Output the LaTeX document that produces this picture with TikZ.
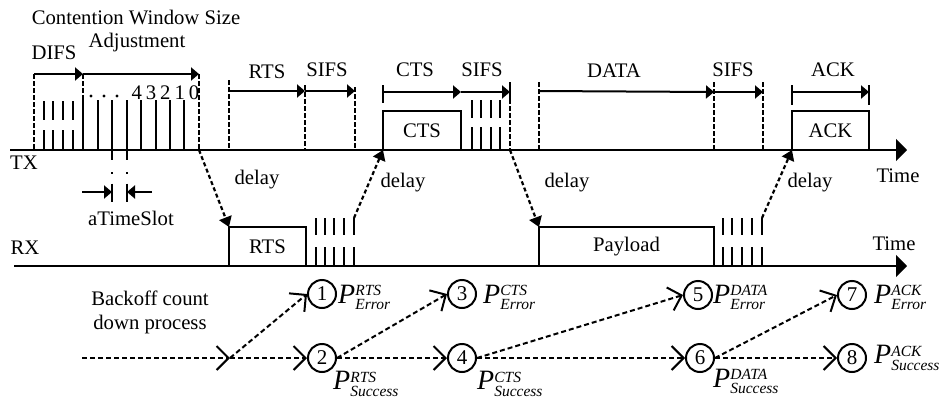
\documentclass[tikz,border=0pt]{standalone}
\usepackage{amsmath}
\usepackage{fontspec}
\setmainfont{Liberation Serif}
\usepackage{tikz}
\usetikzlibrary{arrows.meta, positioning, calc}

\newcommand{\probfont}{\fontsize{15.5}{15.5}\selectfont\itshape}
\newcommand{\prob}[2]{{\fontsize{28}{28}\selectfont\itshape P}$^{\hbox{\probfont #1}}_{\hbox{\probfont #2}}$}

\tikzset{
  lbl/.style={font=\fontsize{20.7}{24}\selectfont, inner sep=0pt},
  axis/.style={line width=2pt, -{Triangle[length=11pt, width=22pt]}},
  tick/.style={line width=2pt},
  guide/.style={line width=1.8pt, dash pattern=on 4.5pt off 2.5pt},
  span/.style={line width=2pt, -{Triangle[length=8pt, width=13pt]}},
  frame/.style={draw, line width=2pt, inner sep=0pt, outer sep=0pt, anchor=south west, font=\fontsize{20.7}{24}\selectfont},
  delay/.style={line width=2.2pt, dash pattern=on 4pt off 2.7pt, -{Triangle[length=10pt, width=13pt]}},
  state/.style={circle, draw, line width=2pt, minimum size=28pt, inner sep=0pt, font=\fontsize{21}{21}\selectfont},
  flow/.style={line width=2pt, dash pattern=on 5pt off 3pt, -{Straight Barb[length=12pt, width=24pt]}},
  prb/.style={anchor=west, inner sep=0pt, font=\fontsize{20.7}{24}\selectfont}
}

\begin{document}
\begin{tikzpicture}[x=1pt, y=-1pt]
  \useasboundingbox (0,0) rectangle (940,399);

  % time axes
  \draw[axis] (10,150) -- (907,150);
  \draw[axis] (14,266) -- (907,266);
  \node[lbl] (tx) at (24,163) {TX};
  \node[lbl] (rx) at (25,248) {RX};
  \node[lbl] (txtime) at (898,176) {Time};
  \node[lbl] (rxtime) at (894,244) {Time};

  % DIFS
  \draw[guide] (34,74) -- (34,150);
  \draw[guide] (83,74) -- (83,100);
  \draw[tick] (83,100) -- (83,150);
  \draw[span] (34,74) -- (83,74);
  \foreach \x in {44,53,63,73}
    \draw[tick] (\x,101) -- (\x,120) (\x,130) -- (\x,150);
  \node[lbl] (difs) at (54,53) {DIFS};

  % Contention window: backoff slots
  \draw[span] (83,74) -- (199,74);
  \draw[guide] (199,74) -- (199,150);
  \foreach \x in {98,112,127,141,156,170,184}
    \draw[tick] (\x,100) -- (\x,150);
  \foreach \x in {91,104,117}
    \fill (\x,96) circle (1.6pt);
  \foreach \d [count=\i] in {4,3,2,1,0}
    \node[lbl] (cnt\i) at ({122.5+14.3*\i},93) {\d};
  \node[lbl] (cw) at (136,17) {Contention Window Size};
  \node[lbl] (adj) at (137,43) {Adjustment};

  % aTimeSlot
  \foreach \x in {112,127}
    \draw[tick, dash pattern=on 10pt off 12pt on 1.5pt off 10pt on 20pt] (\x,150) -- (\x,202);
  \draw[span] (82,192) -- (112,192);
  \draw[span] (152,192) -- (127,192);
  \node[lbl] (slot) at (131,218) {aTimeSlot};

  % RTS + SIFS
  \draw[guide] (229,80) -- (229,150);
  \draw[span] (229,91) -- (305,91);
  \draw[guide] (305,85) -- (305,150);
  \draw[span] (305,91) -- (355,91);
  \draw[guide] (355,87) -- (355,150);
  \node[lbl] (rtslbl) at (267,72) {RTS};
  \node[lbl] (sifs1) at (327,70) {SIFS};

  % CTS + SIFS
  \node[frame, minimum width=78pt, minimum height=39pt] (ctsbox) at (383,150) {CTS};
  \draw[tick] (383,85) -- (383,103);
  \draw[span] (383,92) -- (461,92);
  \draw[span] (461,92) -- (510,92);
  \draw[tick] (510,82) -- (510,99);
  \draw[guide] (510,99) -- (510,150);
  \foreach \x in {472,481,491,500}
    \draw[tick] (\x,100) -- (\x,118) (\x,127) -- (\x,150);
  \node[lbl] (ctslbl) at (415,70) {CTS};
  \node[lbl] (sifs2) at (482,70) {SIFS};

  % DATA + SIFS
  \draw[guide] (539,82) -- (539,150);
  \draw[span] (539,91) -- (714,92);
  \draw[guide] (714,82) -- (714,150);
  \draw[span] (714,92) -- (763,92);
  \draw[guide] (763,82) -- (763,150);
  \node[lbl] (datalbl) at (614,71) {DATA};
  \node[lbl] (sifs3) at (733,70) {SIFS};

  % ACK
  \node[frame, minimum width=77pt, minimum height=39pt] (ackbox) at (792,150) {ACK};
  \draw[tick] (792,85) -- (792,105) (869,85) -- (869,105);
  \draw[span] (792,92) -- (869,92);
  \node[lbl] (acklbl) at (833,70) {ACK};

  % RX frames
  \node[frame, minimum width=77pt, minimum height=39pt] (rtsbox) at (229,266) {RTS};
  \node[frame, minimum width=175pt, minimum height=39pt] (payload) at (539,266) {Payload};
  \foreach \x in {316,325,334,344,354,723,732,742,752,762}
    \draw[tick] (\x,218) -- (\x,235) (\x,247) -- (\x,266);

  % delays
  \coordinate (cwend) at (199,150);
  \coordinate (rxsifs1) at (354,218);
  \coordinate (txsifs2) at (510,150);
  \coordinate (rxsifs2) at (762,218);
  \draw[delay] (cwend) -- (rtsbox.north west);
  \draw[delay] (rxsifs1) -- (ctsbox.south west);
  \draw[delay] (txsifs2) -- (payload.north west);
  \draw[delay] (rxsifs2) -- (ackbox.south west);
  \node[lbl] (delay1) at (257,180) {delay};
  \node[lbl] (delay2) at (403,183) {delay};
  \node[lbl] (delay3) at (567,183) {delay};
  \node[lbl] (delay4) at (810,183) {delay};

  % backoff count down process
  \node[lbl, align=center] (backoff) at (150,312) {Backoff count\\down process};
  \coordinate (start) at (82,358);
  \coordinate (fork) at (230,358);
  \node[state] (s1) at (322,294) {1};
  \node[state] (s2) at (322,358) {2};
  \node[state] (s3) at (462,294) {3};
  \node[state] (s4) at (462,358) {4};
  \node[state] (s5) at (698,295) {5};
  \node[state] (s6) at (700,358) {6};
  \node[state] (s7) at (852,295) {7};
  \node[state] (s8) at (852,358) {8};
  \draw[flow] (start) -- (fork);
  \draw[flow] (fork) -- (s1.west);
  \draw[flow] (fork) -- (s2.west);
  \draw[flow] (s2.east) -- (s3.west);
  \draw[flow] (s2.east) -- (s4.west);
  \draw[flow] (s4.east) -- (s5.west);
  \draw[flow] (s4.east) -- (s6.west);
  \draw[flow] (s6.east) -- (s7.west);
  \draw[flow] (s6.east) -- (s8.west);

  % probabilities
  \node[prb] (p1) at (338,297) {\prob{RTS}{Error}};
  \node[prb] (p2) at (333,384) {\prob{RTS}{Success}};
  \node[prb] (p3) at (483,297) {\prob{CTS}{Error}};
  \node[prb] (p4) at (477,384) {\prob{CTS}{Success}};
  \node[prb] (p5) at (713,297) {\prob{DATA}{Error}};
  \node[prb] (p6) at (713,381) {\prob{DATA}{Success}};
  \node[prb] (p7) at (874,297) {\prob{ACK}{Error}};
  \node[prb] (p8) at (874,358) {\prob{ACK}{Success}};
\end{tikzpicture}
\end{document}
